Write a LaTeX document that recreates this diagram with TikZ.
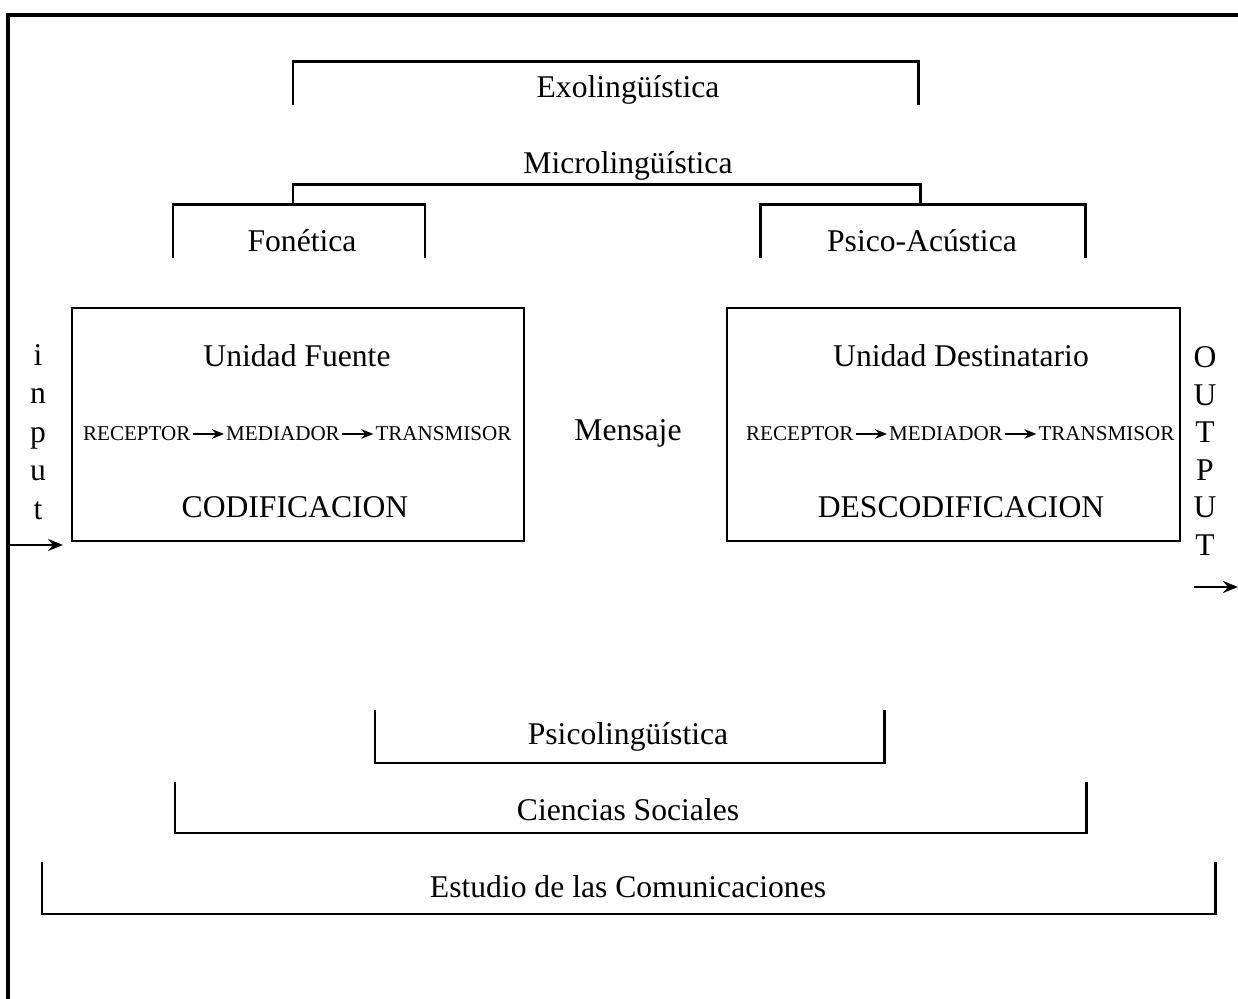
\documentclass[tikz,border=0pt]{standalone}
\usepackage{fontspec}
\setmainfont{Liberation Serif}
\usetikzlibrary{arrows.meta,positioning}

\begin{document}
\begin{tikzpicture}[
    x=0.02cm, y=-0.02cm,
    node distance=0.7cm,
    label/.style={font=\fontsize{18}{22}\selectfont, inner sep=0pt},
    small/.style={font=\fontsize{12}{14}\selectfont, inner sep=0pt},
    unit/.style={rectangle, draw, line width=1.1pt, minimum width=9.06cm, minimum height=4.66cm},
    bracket/.style={line width=1.7pt},
    arrow/.style={-{Stealth[length=2.4mm, width=1.9mm]}, line width=1pt, shorten <=1pt, shorten >=1pt},
    flow/.style={-{Stealth[length=3mm, width=2.4mm]}, line width=1.4pt}
]
\useasboundingbox (0,0) rectangle (1238,999);

% outer frame
\draw[line width=1.8pt] (8,999) -- (8,15) -- (1238,15);

% upper brackets
\draw[bracket] (293,105) -- (293,62) -- (918,62) -- (918,105);
\node[label] (exo) at (628,90) {Exolingüística};
\node[label] (micro) at (628,166) {Microlingüística};
\draw[bracket] (293,205) -- (293,185) -- (920,185) -- (920,205);
\draw[bracket] (173,258) -- (173,205) -- (425,205) -- (425,258);
\draw[bracket] (760,258) -- (760,205) -- (1085,205) -- (1085,258);
\node[label] (fonetica) at (302,241) {Fonética};
\node[label] (acustica) at (922,241) {Psico-Acústica};

% source unit
\node[unit] (fuente) at (298,424.5) {};
\node[label] (fuenteTitle) at (297,356) {Unidad Fuente};
\node[small] (med1) at (283,434) {MEDIADOR};
\node[small, left=of med1] (rec1) {RECEPTOR};
\node[small, right=of med1] (tra1) {TRANSMISOR};
\draw[arrow] (rec1) -- (med1);
\draw[arrow] (med1) -- (tra1);
\node[label] (cod) at (295,507) {CODIFICACION};

\node[label] (mensaje) at (628,433) {Mensaje};

% destination unit
\node[unit] (destino) at (953.5,424.5) {};
\node[label] (destinoTitle) at (961,356) {Unidad Destinatario};
\node[small] (med2) at (946,434) {MEDIADOR};
\node[small, left=of med2] (rec2) {RECEPTOR};
\node[small, right=of med2] (tra2) {TRANSMISOR};
\draw[arrow] (rec2) -- (med2);
\draw[arrow] (med2) -- (tra2);
\node[label] (descod) at (961,507) {DESCODIFICACION};

% input / output
\node[label, align=center] (input) at (38,432) {i\\n\\p\\u\\t};
\coordinate (inStart) at (10,545);
\coordinate (inEnd) at (63,545);
\draw[flow] (inStart) -- (inEnd);
\node[label, align=center, font=\fontsize{18}{21.4}\selectfont] (output) at (1205,451) {O\\U\\T\\P\\U\\T};
\coordinate (outStart) at (1194,587);
\coordinate (outEnd) at (1238,587);
\draw[flow] (outStart) -- (outEnd);

% lower brackets
\draw[bracket] (375,710) -- (375,763) -- (884,763) -- (884,710);
\node[label] (psico) at (628,737) {Psicolingüística};
\draw[bracket] (175,782) -- (175,833) -- (1086,833) -- (1086,782);
\node[label] (sociales) at (628,810) {Ciencias Sociales};
\draw[bracket] (42,862) -- (42,914) -- (1215,914) -- (1215,862);
\node[label] (estudio) at (628,887) {Estudio de las Comunicaciones};

\end{tikzpicture}
\end{document}
